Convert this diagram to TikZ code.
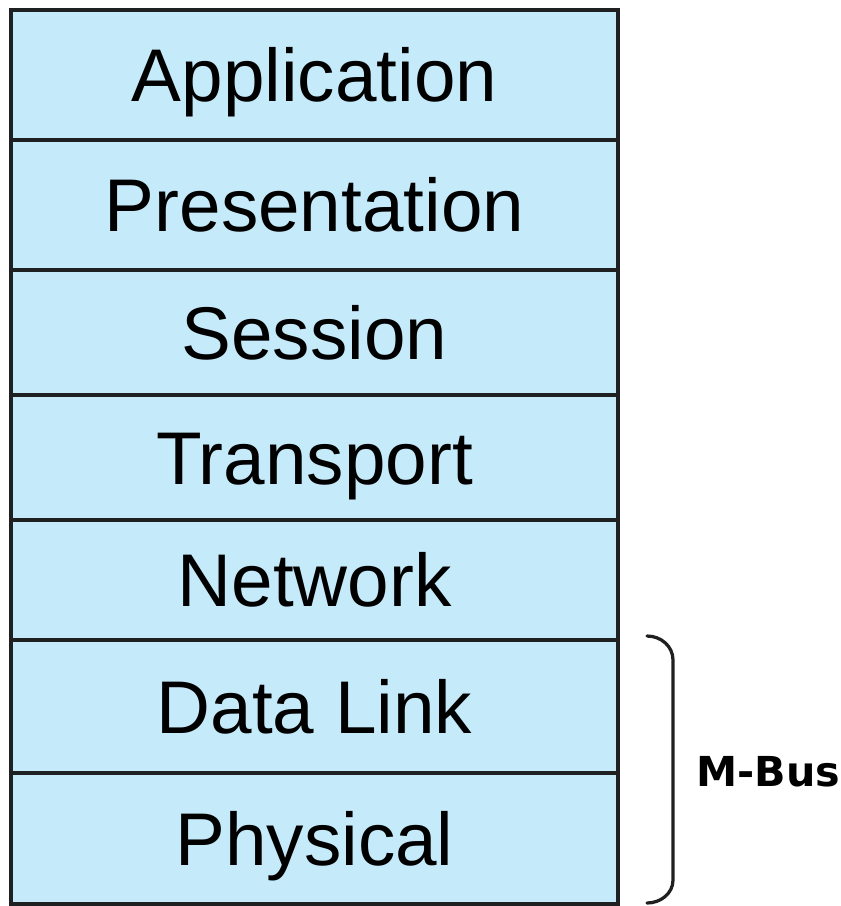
\documentclass[tikz,border=0pt]{standalone}
\usepackage{fontspec}
\setmainfont{Liberation Sans}
\newfontfamily\busfont{DejaVu Sans}

\definecolor{layerblue}{RGB}{197,234,250}
\definecolor{layerline}{RGB}{30,32,34}

\tikzset{
	layer/.style={draw=layerline, line width=0.075cm, fill=layerblue},
	layername/.style={anchor=base, inner sep=0pt, font=\fontsize{42.5}{42.5}\selectfont},
	bracket/.style={draw=layerline, line width=0.065cm, line cap=round},
}

\begin{document}
\begin{tikzpicture}[x=0.02cm, y=-0.02cm]
		\useasboundingbox (0,0) rectangle (840,906);

		% the seven layers, top to bottom
		\foreach \name/\top/\bot/\text in {app/10/140/Application, pres/140/270/Presentation, sess/270/395/Session, trans/395/520/Transport, net/520/640/Network, link/640/773/Data Link, phys/773/904/Physical}
		{
			\coordinate (\name-nw) at (11,\top);
			\coordinate (\name-se) at (618,\bot);
			\draw[layer] (\name-nw) rectangle (\name-se);
			\node[layername] (\name) at (314.5,{(\top+\bot)/2+26.5}) {\text};
		}

		% bracket round the two lowest layers
		\coordinate (brtop) at (647,636);
		\coordinate (brbot) at (647,903);
		\draw[bracket] (brtop) to[out=0, in=90] (673,660) -- (673,880) to[out=-90, in=0] (brbot);

		\node[anchor=west, inner sep=0pt, font=\busfont\bfseries\fontsize{23.5}{23.5}\selectfont] (mbus) at (696,772) {M-Bus};
	\end{tikzpicture}
\end{document}
